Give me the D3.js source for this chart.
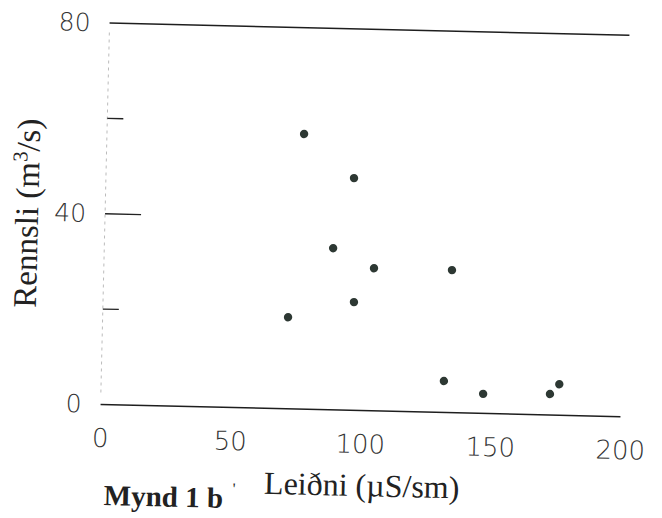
<!DOCTYPE html>
<html>
<head>
<meta charset="utf-8">
<script src="https://cdn.jsdelivr.net/npm/d3@7"></script>
<style>
  body { margin: 0; background: #fff; }
  .tick text { font-family: "DejaVu Sans", sans-serif; font-weight: 200; fill: #333; }
  .title { font-family: "Liberation Serif", serif; fill: #222; }
</style>
</head>
<body>
<div id="chart"></div>
<script>
// Leiðni (µS/sm) vs Rennsli (m3/s)
var leidni  = [71.3, 75.8, 95.4, 88.0, 103.9, 96.5, 133.9, 131.8, 147.0, 172.7, 176.2];
var rennsli = [19.2, 57.7, 48.7, 33.9, 29.9, 22.7, 29.9, 6.6, 4.1, 4.4, 6.5];
var xTicks = [0, 50, 100, 150, 200];
var yLabels = [0, 40, 80];
var yMinor = [20, 60];

var svgWidth = 662;
var svgHeight = 518;

var svg = d3.select("#chart")
  .append("svg")
  .attr("width", svgWidth)
  .attr("height", svgHeight);

// the scan sits a little crooked, so tilt the whole page
var chartGroup = svg.append("g")
  .attr("transform", "rotate(1.35, 360, 220)");

var xScale = d3.scaleLinear().domain([0, 200]).range([105, 625]);
var yScale = d3.scaleLinear().domain([0, 80]).range([410.5, 29]);

// horizontal lines at 0 and 80
chartGroup.selectAll("line.hline")
  .data([0, 80])
  .enter()
  .append("line")
  .attr("class", "hline")
  .attr("x1", xScale(0))
  .attr("x2", xScale(200))
  .attr("y1", d => yScale(d))
  .attr("y2", d => yScale(d))
  .attr("stroke", "#1e1e1e")
  .attr("stroke-width", 1.5);

// faint left axis
chartGroup.append("line")
  .attr("x1", xScale(0)).attr("x2", xScale(0))
  .attr("y1", yScale(78)).attr("y2", yScale(2))
  .attr("stroke", "#bbb")
  .attr("stroke-width", 1)
  .attr("stroke-dasharray", "3,4");

// y ticks: long at 40, short at 20 and 60
chartGroup.selectAll("line.ytick")
  .data([20, 40, 60])
  .enter()
  .append("line")
  .attr("class", "ytick")
  .attr("x1", xScale(0))
  .attr("x2", d => xScale(0) + (d == 40 ? 36 : 16))
  .attr("y1", d => yScale(d))
  .attr("y2", d => yScale(d))
  .attr("stroke", "#222")
  .attr("stroke-width", 1.3);

// y labels
var leftAxis = d3.axisLeft(yScale).tickValues(yLabels).tickSize(0).tickPadding(19);
chartGroup.append("g")
  .attr("transform", `translate(${xScale(0)}, 0)`)
  .call(leftAxis)
  .call(g => g.select(".domain").remove())
  .selectAll("text")
  .attr("font-size", 25);

// x labels
var bottomAxis = d3.axisBottom(xScale).tickValues(xTicks).tickSize(0).tickPadding(24);
chartGroup.append("g")
  .attr("transform", `translate(0, ${yScale(0)})`)
  .call(bottomAxis)
  .call(g => g.select(".domain").remove())
  .selectAll("text")
  .attr("font-size", 26);

// points
chartGroup.selectAll("circle")
  .data(leidni)
  .enter()
  .append("circle")
  .attr("cx", d => xScale(d))
  .attr("cy", (d, i) => yScale(rennsli[i]))
  .attr("r", 4.2)
  .attr("fill", "#2d3833");

// axis titles
var yTitle = chartGroup.append("text")
  .attr("class", "title")
  .attr("transform", "translate(38, 221) rotate(-90)")
  .attr("text-anchor", "middle")
  .attr("font-size", 33);
yTitle.append("tspan").text("Rennsli (m");
yTitle.append("tspan").attr("dy", -12).attr("font-size", 21).text("3");
yTitle.append("tspan").attr("dy", 12).text("/s)");

chartGroup.append("text")
  .attr("class", "title")
  .attr("x", 368)
  .attr("y", 496)
  .attr("text-anchor", "middle")
  .attr("font-size", 32)
  .text("Leiðni (µS/sm)");

chartGroup.append("text")
  .attr("class", "title")
  .attr("x", 170)
  .attr("y", 511)
  .attr("text-anchor", "middle")
  .attr("font-size", 29)
  .attr("font-weight", "bold")
  .text("Mynd 1 b");

chartGroup.append("text")
  .attr("class", "title")
  .attr("x", 239)
  .attr("y", 497)
  .attr("font-size", 16)
  .attr("fill", "#999")
  .text("'");
</script>
</body>
</html>
